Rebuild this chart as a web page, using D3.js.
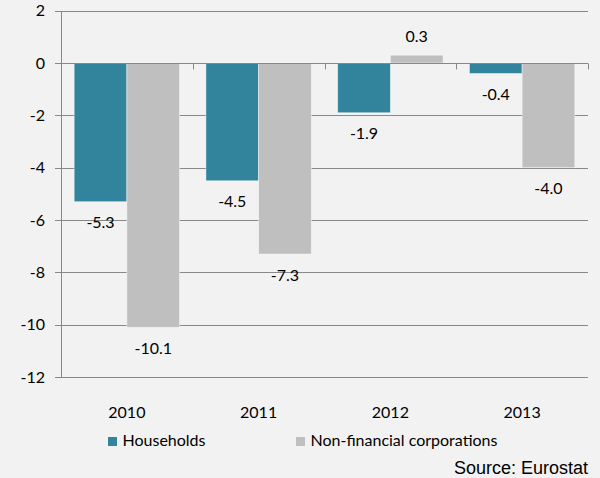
<!DOCTYPE html>
<html><head><meta charset="utf-8">
<script src="https://cdn.jsdelivr.net/npm/d3@7"></script>
<style>
html,body{margin:0;padding:0;background:#f2f2f2;}
svg{display:block;}
text{font-family:Lato,"Open Sans",sans-serif;fill:#000;}
</style></head>
<body>
<svg id="c" width="600" height="478"></svg>
<script>
const years = ["2010","2011","2012","2013"];
const seriesNames = ["Households","Non-financial corporations"];
const households = [-5.3,-4.5,-1.9,-0.4];
const corporations = [-10.1,-7.3,0.3,-4.0];
const yTicks = [2,0,-2,-4,-6,-8,-10,-12];
const source = "Source: Eurostat";

(function(){
const colors = ["#31849b","#bfbfbf"];
const fs = "16px";
const svg = d3.select("#c");
svg.append("rect").attr("width",600).attr("height",478).attr("fill","#f2f2f2");

const pl=61, pr=588, pt=10.7, pb=377;
const y = d3.scaleLinear().domain([-12,2]).range([pb,pt]);
const x0 = d3.scaleBand().domain(years).range([pl,pr]).padding(0);
const x1 = d3.scaleBand().domain(seriesNames).range([x0.bandwidth()*0.1, x0.bandwidth()*0.9]).padding(0);

const gridColor="#888888";
svg.append("g").selectAll("line").data(yTicks).join("line")
  .attr("x1",pl-6).attr("x2",pr)
  .attr("y1",d=>Math.round(y(d))+0.5).attr("y2",d=>Math.round(y(d))+0.5)
  .attr("stroke",gridColor).attr("stroke-width",1);
svg.append("line").attr("x1",pl+0.5).attr("x2",pl+0.5)
  .attr("y1",Math.round(y(2))).attr("y2",Math.round(y(-12))+1)
  .attr("stroke",gridColor);
svg.append("g").selectAll("text").data(yTicks).join("text")
  .attr("x",45).attr("y",d=>y(d)).attr("dy","0.36em")
  .attr("text-anchor","end").style("font-size",fs)
  .text(d=>d);

const data = years.map((yr,i)=>({year:yr, vals:[households[i],corporations[i]]}));
const groups = svg.append("g").selectAll("g").data(data).join("g")
  .attr("transform",d=>`translate(${x0(d.year)},0)`);
groups.selectAll("rect").data(d=>d.vals.map((v,j)=>({v,s:seriesNames[j],j})))
  .join("rect")
  .attr("x",d=>x1(d.s)).attr("width",x1.bandwidth())
  .attr("y",d=>Math.min(y(0),y(d.v))).attr("height",d=>Math.abs(y(d.v)-y(0)))
  .attr("fill",d=>colors[d.j])
  .attr("stroke","rgba(255,255,255,0.55)").attr("stroke-width",0.8);

const y0=Math.round(y(0))+0.5;
svg.append("line").attr("x1",pl).attr("x2",pr).attr("y1",y0).attr("y2",y0).attr("stroke",gridColor);
const bounds = years.map(d=>x0(d)).concat([pr]);
svg.append("g").selectAll("line").data(bounds).join("line")
  .attr("x1",d=>Math.round(d)+0.5).attr("x2",d=>Math.round(d)+0.5)
  .attr("y1",y0).attr("y2",y0+6).attr("stroke",gridColor);

groups.selectAll("text").data(d=>d.vals.map((v,j)=>({v,s:seriesNames[j],j})))
  .join("text")
  .attr("x",d=>x1(d.s)+x1.bandwidth()/2)
  .attr("y",d=>d.v>=0 ? y(d.v)-13 : y(d.v)+26.5)
  .attr("text-anchor","middle").style("font-size",fs)
  .text(d=>d.v.toFixed(1));

svg.append("g").selectAll("text").data(years).join("text")
  .attr("x",d=>x0(d)+x0.bandwidth()/2).attr("y",418)
  .attr("text-anchor","middle").style("font-size",fs).text(d=>d);

const legX=[108,296];
const lg = svg.append("g").selectAll("g").data(seriesNames).join("g")
  .attr("transform",(d,i)=>`translate(${legX[i]},437)`);
lg.append("rect").attr("width",9).attr("height",9).attr("fill",(d,i)=>colors[i]);
lg.append("text").attr("x",14.5).attr("y",8.5).style("font-size",fs).text(d=>d);

svg.append("text").attr("x",588).attr("y",474).attr("text-anchor","end")
  .style("font-family","'Liberation Sans',Arial,sans-serif").style("font-size","18px")
  .text(source);
})();
</script>
</body></html>
